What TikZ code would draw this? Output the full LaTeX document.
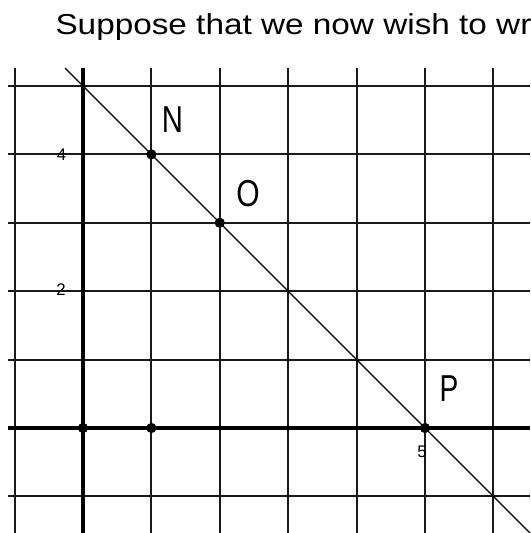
\documentclass[tikz,border=0pt]{standalone}
\usepackage{fontspec}
\setmainfont{Liberation Sans}
\usepackage{graphicx}
\usetikzlibrary{positioning}

\tikzset{
  gridline/.style={black!90,line width=0.8pt},
  axisline/.style={black,line width=1.5pt},
  dot/.style={circle,fill=black,inner sep=0pt,minimum size=0.15cm},
  ptlabel/.style={inner sep=0pt,font=\fontsize{15.6}{18}\selectfont},
  ticklabel/.style={inner sep=0pt,font=\fontsize{7}{8}\selectfont}
}

\begin{document}
\begin{tikzpicture}
 \useasboundingbox (-1.2135,-1.5351) rectangle (6.5351,6.2573);
 % heading text, cut at the right edge
 \node[anchor=base west,inner sep=0pt,font=\fontsize{12}{14}\selectfont] (head) at (-0.409,5.746) {\scalebox{1.155}[1]{Suppose that we now wish to wr}};
 % grid
 \foreach \x in {-1,1,2,3,4,5,6} \draw[gridline] (\x,-1.54) -- (\x,5.263);
 \foreach \y in {-1,1,2,3,4,5} \draw[gridline] (-1.096,\y) -- (6.54,\y);
 % axes
 \draw[axisline] (0,-1.54) -- (0,5.263);
 \draw[axisline] (-1.096,0) -- (6.54,0);
 % tick labels
 \node[ticklabel] (t4) at (-0.314,3.99) {4};
 \node[ticklabel] (t2) at (-0.322,2.018) {2};
 \node[ticklabel] (t5) at (4.956,-0.351) {5};
 % the line x+y=5
 \coordinate (lineTop) at (-0.263,5.263);
 \coordinate (lineEnd) at (6.54,-1.54);
 \draw[black,line width=0.45pt] (lineTop) -- (lineEnd);
 % points
 \node[dot] (orig) at (0,0) {};
 \node[dot] (one) at (1,0) {};
 \node[dot] (N) at (1,4) {};
 \node[dot] (O) at (2,3) {};
 \node[dot] (P) at (5,0) {};
 \node[ptlabel] (Nlab) at (1.309,4.503) {\scalebox{0.78}[1]{N}};
 \node[ptlabel] (Olab) at (2.412,3.428) {\scalebox{0.8}[1]{O}};
 \node[ptlabel] (Plab) at (5.351,0.57) {\scalebox{0.75}[1]{P}};
\end{tikzpicture}
\end{document}
